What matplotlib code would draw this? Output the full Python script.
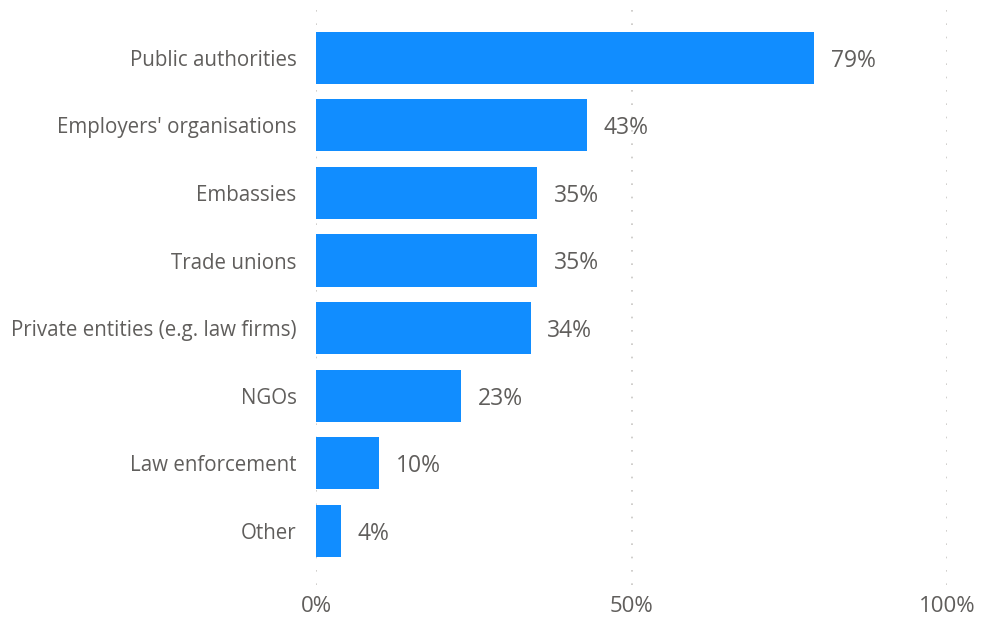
import matplotlib.pyplot as plt

categories = [
    "Public authorities",
    "Employers' organisations",
    "Embassies",
    "Trade unions",
    "Private entities (e.g. law firms)",
    "NGOs",
    "Law enforcement",
    "Other",
]
values = [79, 43, 35, 35, 34, 23, 10, 4]
ticks = [0, 50, 100]
tick_labels = ["0%", "50%", "100%"]

plt.rcParams["font.family"] = ["Open Sans", "DejaVu Sans"]
grey = "#605E5C"
blue = "#118DFF"

fig = plt.figure(figsize=(9.81, 6.22), dpi=100)
W, H = 981, 622
ax = fig.add_axes([316 / W, (H - 585) / H, (947 - 316) / W, 580 / H])

y = list(range(len(categories)))
ax.barh(y, values, height=0.77, color=blue, zorder=2)
ax.set_ylim(7.8, -0.78)
ax.set_xlim(0, 100)

for yi, v in zip(y, values):
    ax.annotate(f"{v}%", (v, yi), xytext=(12, -2), textcoords="offset points",
                va="center", ha="left", fontsize=16.5, color=grey)

ax.set_yticks(y)
ax.set_yticklabels(categories, fontsize=14.8, color=grey)
ax.set_xticks(ticks)
ax.set_xticklabels(tick_labels, fontsize=16, color=grey)
ax.tick_params(axis="y", length=0, pad=14)
ax.tick_params(axis="x", length=0, pad=8)

for t in ticks:
    ax.axvline(t, color="#C8C6C4", lw=1.2, linestyle=(0, (1, 7)), zorder=1)

for s in ax.spines.values():
    s.set_visible(False)

fig.savefig("out.png", dpi=100)
